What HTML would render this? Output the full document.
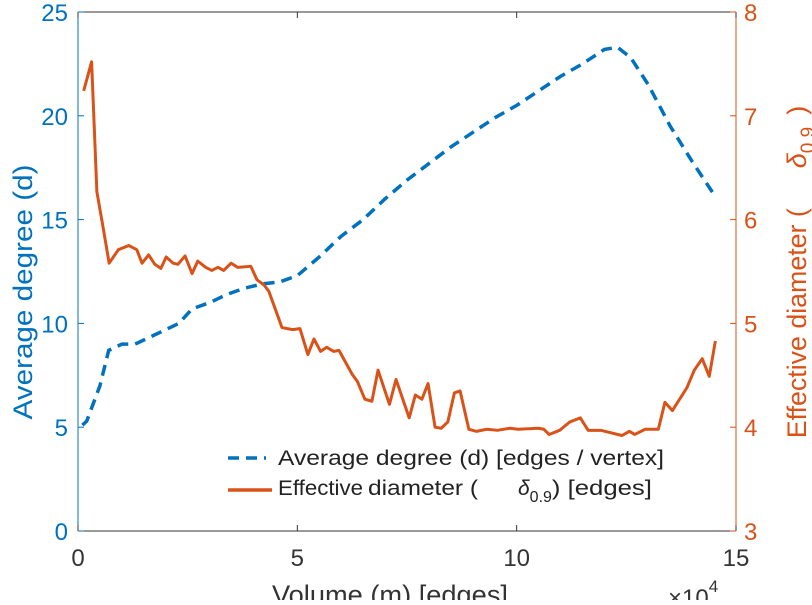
<!DOCTYPE html>
<html><head><meta charset="utf-8"><style>
body{margin:0;background:#fff}
svg{font-family:"Liberation Sans",sans-serif}
</style></head><body>
<svg width="812" height="600" xmlns="http://www.w3.org/2000/svg">
<g id="axes"></g>
<g id="plot"></g>
<g id="legend">
  <line x1="228" y1="458" x2="266" y2="458" stroke="#0072BD" stroke-width="3.5" stroke-dasharray="11,7"/>
  <text x="278" y="465" font-size="21" fill="#222" textLength="386" lengthAdjust="spacingAndGlyphs">Average degree (d) [edges / vertex]</text>
  <line x1="228" y1="490" x2="272" y2="490" stroke="#D95319" stroke-width="3.5"/>
  <text x="278" y="495" font-size="21" fill="#222"><tspan textLength="85" lengthAdjust="spacingAndGlyphs">Effective</tspan><tspan x="368" textLength="110" lengthAdjust="spacingAndGlyphs">diameter (</tspan><tspan x="518" font-style="italic">δ</tspan><tspan font-size="16" dy="7">0.9</tspan><tspan dy="-7" textLength="100" lengthAdjust="spacingAndGlyphs">) [edges]</tspan></text>
</g>
<text transform="translate(32,292) rotate(-90)" text-anchor="middle" font-size="27" fill="#0072BD" textLength="255" lengthAdjust="spacingAndGlyphs">Average degree (d)</text>
<text transform="translate(806,272) rotate(-90)" text-anchor="middle" font-size="27" fill="#D95319"><tspan textLength="230" lengthAdjust="spacingAndGlyphs">Effective diameter (</tspan><tspan dx="40" font-style="italic">δ</tspan><tspan font-size="19" dy="8">0.9</tspan><tspan dy="-8" dx="12">)</tspan></text>
<text x="390" y="604" text-anchor="middle" font-size="27" fill="#333" textLength="236" lengthAdjust="spacingAndGlyphs">Volume (m) [edges]</text>
<text x="668" y="606" font-size="24" fill="#333">×10<tspan font-size="17" dy="-14">4</tspan></text>
</svg>
<script>
const xTicks=[0,5,10,15];
const yLeftTicks=[0,5,10,15,20,25];
const yRightTicks=[3,4,5,6,7,8];
const degX=[0.1,0.2,0.5,0.7,1.0,1.3,1.6,2.0,2.3,2.6,3.0,3.4,3.8,4.2,4.6,5.0,5.5,6.0,6.5,7.0,7.5,8.0,8.5,9.0,9.5,10,10.5,11,11.5,12.0,12.3,12.6,13.0,13.5,14.0,14.5];
const degY=[5.1,5.3,7,8.7,9.0,9.0,9.3,9.7,10.0,10.7,11,11.4,11.7,11.9,12.0,12.3,13.2,14.2,15.0,16.0,16.9,17.7,18.5,19.2,19.9,20.5,21.2,21.9,22.5,23.2,23.3,22.8,21.5,19.5,17.8,16.2];
const diaX=[0.13,0.31,0.43,0.57,0.71,0.92,1.16,1.34,1.46,1.61,1.75,1.89,2.01,2.17,2.28,2.44,2.6,2.73,2.91,3.05,3.19,3.32,3.49,3.64,3.94,4.08,4.24,4.35,4.65,4.89,5.06,5.24,5.38,5.53,5.67,5.83,5.95,6.25,6.37,6.54,6.7,6.84,7.1,7.25,7.55,7.69,7.84,7.98,8.14,8.28,8.43,8.58,8.71,8.91,9.08,9.32,9.56,9.85,10.03,10.5,10.62,10.74,10.98,11.21,11.45,11.63,11.92,12.4,12.57,12.69,12.93,13.23,13.38,13.55,13.88,14.05,14.23,14.39,14.53];
const diaY=[7.24,7.52,6.27,5.93,5.58,5.71,5.75,5.71,5.58,5.66,5.57,5.53,5.64,5.58,5.57,5.65,5.48,5.6,5.54,5.51,5.54,5.51,5.58,5.54,5.55,5.42,5.37,5.31,4.96,4.94,4.95,4.70,4.85,4.73,4.77,4.73,4.74,4.51,4.44,4.27,4.25,4.55,4.22,4.46,4.09,4.31,4.27,4.42,4.0,3.99,4.05,4.33,4.35,3.98,3.96,3.98,3.97,3.99,3.98,3.99,3.98,3.93,3.97,4.05,4.09,3.97,3.97,3.92,3.96,3.93,3.98,3.98,4.24,4.16,4.38,4.55,4.66,4.49,4.83];
const L=78,R=736,T=12,B=531;
const sx=v=>L+(v/15)*(R-L);
const syL=v=>B-(v/25)*(B-T);
const syR=v=>B-((v-3)/5)*(B-T);
const NS="http://www.w3.org/2000/svg";
const ax=document.getElementById('axes'),pl=document.getElementById('plot');
function mk(tag,attrs,parent){const e=document.createElementNS(NS,tag);for(const k in attrs)e.setAttribute(k,attrs[k]);parent.appendChild(e);return e;}
let e;
e=mk('line',{x1:L,y1:T,x2:R,y2:T,stroke:'#333','stroke-width':1},ax);


e=mk('line',{x1:L,y1:B,x2:R,y2:B,stroke:'#333','stroke-width':1},ax);


e=mk('line',{x1:L,y1:T,x2:L,y2:B,stroke:'#0072BD','stroke-width':1},ax);


e=mk('line',{x1:R,y1:T,x2:R,y2:B,stroke:'#D95319','stroke-width':1},ax);


xTicks.forEach(t=>{
 mk('line',{x1:sx(t),y1:B,x2:sx(t),y2:B-6,stroke:'#333'},ax);
 mk('line',{x1:sx(t),y1:T,x2:sx(t),y2:T+6,stroke:'#333'},ax);
 e=mk('text',{x:sx(t),y:B+35,'text-anchor':'middle','font-size':24,fill:'#333'},ax);e.textContent=t;
 
 
});
yLeftTicks.forEach(t=>{
 mk('line',{x1:L,y1:syL(t),x2:L+6,y2:syL(t),stroke:'#0072BD'},ax);
 e=mk('text',{x:L-10,y:syL(t)+9,'text-anchor':'end','font-size':24,fill:'#0072BD'},ax);e.textContent=t;
 
 
});
yRightTicks.forEach(t=>{
 mk('line',{x1:R,y1:syR(t),x2:R-6,y2:syR(t),stroke:'#D95319'},ax);
 e=mk('text',{x:R+8,y:syR(t)+9,'font-size':24,fill:'#D95319'},ax);e.textContent=t;
 
 
});
e=mk('polyline',{points:degX.map((x,i)=>sx(x)+','+syL(degY[i])).join(' '),fill:'none',stroke:'#0072BD','stroke-width':3.5,'stroke-dasharray':'11,7'},pl);


e=mk('polyline',{points:diaX.map((x,i)=>sx(x)+','+syR(diaY[i])).join(' '),fill:'none',stroke:'#D95319','stroke-width':3,'stroke-linejoin':'round'},pl);


</script>
</body></html>
